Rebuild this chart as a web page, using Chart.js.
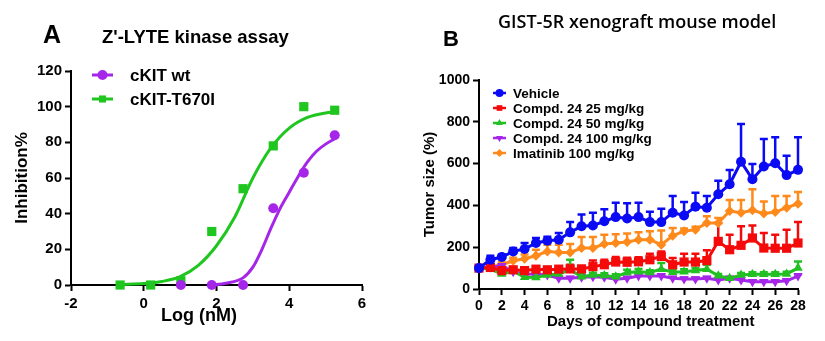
<!DOCTYPE html>
<html>
<head>
<meta charset="utf-8">
<script src="https://cdn.jsdelivr.net/npm/chart.js@4/dist/chart.umd.min.js"></script>
<style>
  body { margin: 0; width: 825px; height: 341px; background: #fff; position: relative; overflow: hidden;
         font-family: "Liberation Sans", Arial, sans-serif; }
  canvas { position: absolute; top: 0; }
  #chartA { left: 0; }
  #chartB { left: 400px; }
  .lab { position: absolute; line-height: 1; white-space: nowrap; color: #000; font-weight: bold; }
</style>
</head>
<body>
<canvas id="chartA" width="400" height="341"></canvas>
<canvas id="chartB" width="425" height="341"></canvas>
<div class="lab" style="left:43px;top:22px;font-size:25px">A</div>
<div class="lab" style="left:102px;top:28px;font-size:18.5px">Z'-LYTE kinase assay</div>
<div class="lab" style="left:161px;top:306px;font-size:18px">Log (nM)</div>
<div class="lab" style="left:443px;top:28px;font-size:22px">B</div>
<div class="lab" style="left:498px;top:12px;font-size:18px;font-family:'Open Sans';font-weight:600">GIST-5R xenograft mouse model</div>
<div class="lab" style="left:547px;top:313px;font-size:15px">Days of compound treatment</div>
<script>
// Panel A : Z'-LYTE (log nM vs % inhibition)
const doseMut = [-0.65, 0.19, 1.02, 1.87, 2.73, 3.56, 4.40, 5.25];
const inhibMut = [0, 0, 2.4, 30, 54, 78, 100, 98];
const doseWt = [1.02, 1.87, 2.73, 3.56, 4.40, 5.25];
const inhibWt = [0, 0, 0, 43, 63, 84];
// fitted curves
const fitMutX = [-0.65, 0, 0.5, 1, 1.5, 2, 2.5, 3, 3.5, 4, 4.5, 5, 5.25];
const fitMutY = [0.3, 0.8, 2, 4.7, 11, 22, 38, 60, 77, 88, 94, 96.5, 97];
const fitWtX = [1.87, 2.25, 2.73, 3, 3.25, 3.5, 3.75, 4, 4.25, 4.5, 4.75, 5, 5.25];
const fitWtY = [0, 1, 4, 10, 20, 32, 43, 52, 61, 69, 75, 79, 82];

// Panel B : tumor size (%) by day
const days = [0,1,2,3,4,5,6,7,8,9,10,11,12,13,14,15,16,17,18,19,20,21,22,23,24,25,26,27,28];
const vehicle = [100,140,153,180,191,220,231,236,271,300,304,324,344,337,344,320,320,365,352,394,389,453,501,609,525,586,602,545,570];
const vehicleUp = [100,159,165,196,220,244,250,268,320,357,365,381,413,410,413,370,384,445,416,461,445,518,569,790,598,718,726,638,726];
const cpd25 = [100,103,88,92,88,95,92,95,96,96,107,116,129,128,130,140,156,116,129,129,136,228,188,209,244,196,195,195,220];
const cpd25Up = [100,110,95,100,95,105,100,105,116,110,136,140,153,150,152,169,180,148,169,169,185,316,260,300,304,268,260,284,320];
const cpd50 = [100,95,72,85,56,55,67,72,92,59,67,64,59,79,83,79,95,80,83,88,95,63,51,67,70,70,70,72,100];
const cpd50Up = [100,100,80,92,68,68,78,84,140,70,78,75,70,92,96,90,124,92,94,100,116,72,58,76,80,80,80,82,132];
const cpd100 = [100,105,111,83,72,71,67,51,51,56,59,56,47,51,62,62,62,51,48,48,51,43,51,43,35,35,35,39,62];
const cpd100Up = [100,110,118,90,80,78,74,58,58,63,66,63,54,58,70,70,70,58,55,55,58,50,58,50,42,42,42,46,70];
const imatinib = [100,105,116,135,145,159,180,175,175,196,196,215,220,225,236,236,212,255,276,284,316,316,373,365,377,361,368,389,408];
const imatinibUp = [100,112,128,150,165,188,212,212,215,249,249,260,262,265,271,276,280,292,290,298,348,340,426,426,477,419,445,445,464];

const purple = "#A526E8";
const green = "#1FC61F";

Chart.defaults.font.family = "'Liberation Sans', Arial, sans-serif";
Chart.defaults.color = "#000";

function pts(xs, ys) {
  return xs.map((x, i) => ({ x: x, y: ys[i] }));
}

// legend drawn inside the plot area
const miniLegend = {
  id: "miniLegend",
  afterDraw(chart, args, opts) {
    const ctx = chart.ctx;
    ctx.save();
    ctx.font = opts.font;
    ctx.textBaseline = "middle";
    let row = 0;
    chart.data.datasets.forEach(ds => {
      if (!ds.inLegend) return;
      const y = opts.y + row * opts.rowH;
      ctx.strokeStyle = ds.borderColor;
      ctx.fillStyle = ds.borderColor;
      ctx.lineWidth = opts.lineW;
      ctx.beginPath();
      ctx.moveTo(opts.x, y);
      ctx.lineTo(opts.x + opts.len, y);
      ctx.stroke();
      const cx = opts.x + opts.len / 2;
      if (Chart.helpers && Chart.helpers.drawPoint) {
        Chart.helpers.drawPoint(ctx, { pointStyle: ds.pointStyle, rotation: ds.pointRotation || 0, radius: opts.r, borderWidth: 0 }, cx, y);
      } else {
        ctx.beginPath(); ctx.arc(cx, y, opts.r, 0, Math.PI * 2); ctx.fill();
      }
      ctx.fillStyle = "#000";
      ctx.fillText(ds.label, opts.textX, y + 1);
      row++;
    });
    ctx.restore();
  }
};

// upper error bars
const errorBars = {
  id: "errorBars",
  beforeDatasetsDraw(chart) {
    const ctx = chart.ctx;
    const yScale = chart.scales.y;
    chart.data.datasets.forEach((ds, i) => {
      if (!ds.upper) return;
      const meta = chart.getDatasetMeta(i);
      ctx.save();
      ctx.strokeStyle = ds.borderColor;
      ctx.lineWidth = 2.5;
      ds.upper.forEach((u, j) => {
        const el = meta.data[j];
        const top = yScale.getPixelForValue(u);
        if (el.y - top < 1) return;
        ctx.beginPath();
        ctx.moveTo(el.x, el.y);
        ctx.lineTo(el.x, top);
        ctx.moveTo(el.x - 4, top);
        ctx.lineTo(el.x + 4, top);
        ctx.stroke();
      });
      ctx.restore();
    });
  }
};

function axisGrid() {
  return { display: true, drawOnChartArea: false, drawTicks: true, tickLength: 6, tickWidth: 2, tickColor: "#000" };
}

// ---------- chart A ----------
new Chart(document.getElementById("chartA"), {
  type: "line",
  data: {
    datasets: [
      { label: "cKIT wt", data: pts(doseWt, inhibWt), showLine: false, inLegend: true,
        borderColor: purple, backgroundColor: purple, pointStyle: "circle", pointRadius: 5, pointBorderWidth: 0 },
      { label: "cKIT-T670I", data: pts(doseMut, inhibMut), showLine: false, inLegend: true,
        borderColor: green, backgroundColor: green, pointStyle: "rect", pointRadius: 6.5, pointBorderWidth: 0 },
      { label: "fit wt", data: pts(fitWtX, fitWtY), borderColor: purple, borderWidth: 3,
        pointRadius: 0, cubicInterpolationMode: "monotone" },
      { label: "fit T670I", data: pts(fitMutX, fitMutY), borderColor: green, borderWidth: 3,
        pointRadius: 0, cubicInterpolationMode: "monotone" }
    ]
  },
  options: {
    responsive: false,
    animation: false,
    clip: false,
    layout: { autoPadding: false, padding: { left: 0, top: 71, right: 38, bottom: 0 } },
    scales: {
      x: {
        type: "linear", min: -2, max: 6,
        afterFit: s => { s.height = 56; },
        grid: axisGrid(),
        border: { display: true, color: "#000", width: 2 },
        ticks: { stepSize: 2, padding: 4, font: { size: 15, weight: "bold" }, maxRotation: 0 }
      },
      y: {
        min: 0, max: 120,
        afterFit: s => { s.width = 71; },
        grid: axisGrid(),
        border: { display: true, color: "#000", width: 2 },
        ticks: { stepSize: 20, padding: 3, font: { size: 15, weight: "bold" } },
        title: { display: true, text: "Inhibition%", font: { size: 17, weight: "bold" }, padding: { top: 12, bottom: 0 } }
      }
    },
    plugins: {
      legend: { display: false },
      tooltip: { enabled: false },
      miniLegend: { x: 92, y: 75, rowH: 24, len: 21, r: 5, lineW: 3, textX: 130, font: "bold 17px 'Liberation Sans', Arial" }
    }
  },
  plugins: [miniLegend]
});

// ---------- chart B ----------
const colB = { vehicle: "#0A0AF5", c25: "#F50A0A", c50: "#22C022", c100: "#A526E8", ima: "#FF8A1C" };

function serie(label, vals, up, color, style, radius, rot) {
  return {
    label: label, data: pts(days, vals), upper: up, inLegend: true,
    borderColor: color, backgroundColor: color, borderWidth: 3,
    pointStyle: style, pointRadius: radius, pointRotation: rot || 0, pointBorderWidth: 0
  };
}

new Chart(document.getElementById("chartB"), {
  type: "line",
  data: {
    datasets: [
      serie("Vehicle", vehicle, vehicleUp, colB.vehicle, "circle", 5),
      serie("Compd. 24 25 mg/kg", cpd25, cpd25Up, colB.c25, "rect", 6.5),
      serie("Compd. 24 50 mg/kg", cpd50, cpd50Up, colB.c50, "triangle", 5.5),
      serie("Compd. 24 100 mg/kg", cpd100, cpd100Up, colB.c100, "triangle", 5.5, 180),
      serie("Imatinib 100 mg/kg", imatinib, imatinibUp, colB.ima, "rectRot", 5)
    ]
  },
  options: {
    responsive: false,
    animation: false,
    clip: false,
    layout: { autoPadding: false, padding: { left: 0, top: 80, right: 27, bottom: 0 } },
    scales: {
      x: {
        type: "linear", min: 0, max: 28,
        afterFit: s => { s.height = 52; },
        grid: axisGrid(),
        border: { display: true, color: "#000", width: 2 },
        ticks: { stepSize: 2, padding: 3, font: { size: 14, weight: "bold" }, maxRotation: 0, autoSkip: false }
      },
      y: {
        min: 0, max: 1000,
        afterFit: s => { s.width = 79; },
        grid: axisGrid(),
        border: { display: true, color: "#000", width: 2 },
        ticks: { stepSize: 200, padding: 3, font: { size: 14, weight: "bold" }, callback: v => String(v) },
        title: { display: true, text: "Tumor size (%)", font: { size: 15, weight: "bold" }, padding: { top: 21, bottom: 0 } }
      }
    },
    plugins: {
      legend: { display: false },
      tooltip: { enabled: false },
      miniLegend: { x: 93, y: 93, rowH: 15, len: 13, r: 4, lineW: 2.5, textX: 113, font: "bold 13.5px 'Liberation Sans', Arial" }
    }
  },
  plugins: [errorBars, miniLegend]
});
</script>
</body>
</html>
